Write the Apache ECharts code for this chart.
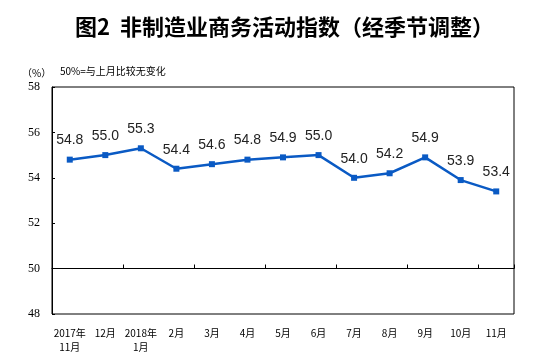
<!DOCTYPE html>
<html><head><meta charset="utf-8">
<script src="https://cdn.jsdelivr.net/npm/echarts@6/dist/echarts.min.js"></script>
<style>html,body{margin:0;padding:0;background:#fff}#c{width:534px;height:361px}</style>
</head><body><div id="c"></div>
<script>
const categories = ['2017年\n11月','12月','2018年\n1月','2月','3月','4月','5月','6月','7月','8月','9月','10月','11月'];
const values = [54.8,55.0,55.3,54.4,54.6,54.8,54.9,55.0,54.0,54.2,54.9,53.9,53.4];
const yTicks = [48,50,52,54,56,58];
const chart = echarts.init(document.getElementById('c'));
chart.setOption({
  backgroundColor:'#fff',
  animation:false,
  title:[{text:'图2  非制造业商务活动指数（经季节调整）',left:70,top:11,
    textStyle:{fontSize:22,fontWeight:'bold',color:'#000',fontFamily:'Noto Sans CJK SC'}},
    {text:'（%）',left:17,top:63,textStyle:{fontSize:10,fontWeight:'normal',color:'#000',fontFamily:'Noto Sans CJK SC'}},
    {text:'50%=与上月比较无变化',left:55,top:61,textStyle:{fontSize:10,fontWeight:'normal',color:'#000',fontFamily:'Noto Sans CJK SC'}}],
  grid:{left:52,right:20,top:87,bottom:47,show:true,borderColor:'#000',borderWidth:1},
  xAxis:[{type:'category',data:categories,boundaryGap:true,
    axisLine:{show:false},axisTick:{show:false},
    axisLabel:{fontSize:10,color:'#000',fontFamily:'Noto Sans CJK SC',margin:12,lineHeight:14,interval:0}},
    {type:'category',data:categories,boundaryGap:true,position:'bottom',offset:-45.5,
    axisLine:{show:true,lineStyle:{color:'#000',width:1}},
    axisTick:{show:true,inside:true,length:4,lineStyle:{color:'#000'}},
    axisLabel:{show:false}}],
  yAxis:{type:'value',min:yTicks[0],max:yTicks[yTicks.length-1],interval:2,
    splitLine:{show:false},axisLine:{show:true,lineStyle:{color:'#000'}},
    axisTick:{show:true,inside:true,length:3,lineStyle:{color:'#000'}},
    axisLabel:{fontSize:12,color:'#000',fontFamily:'Liberation Serif',margin:12}},
  series:[{type:'line',data:values,xAxisIndex:0,symbol:'rect',symbolSize:6,
    itemStyle:{color:'#0a5ac4'},lineStyle:{color:'#0a5ac4',width:2.5},
    label:{show:true,position:'top',distance:9,fontSize:14,color:'#222',fontFamily:'Liberation Sans',
      formatter:p=>p.value.toFixed(1)}}]
});
</script></body></html>
